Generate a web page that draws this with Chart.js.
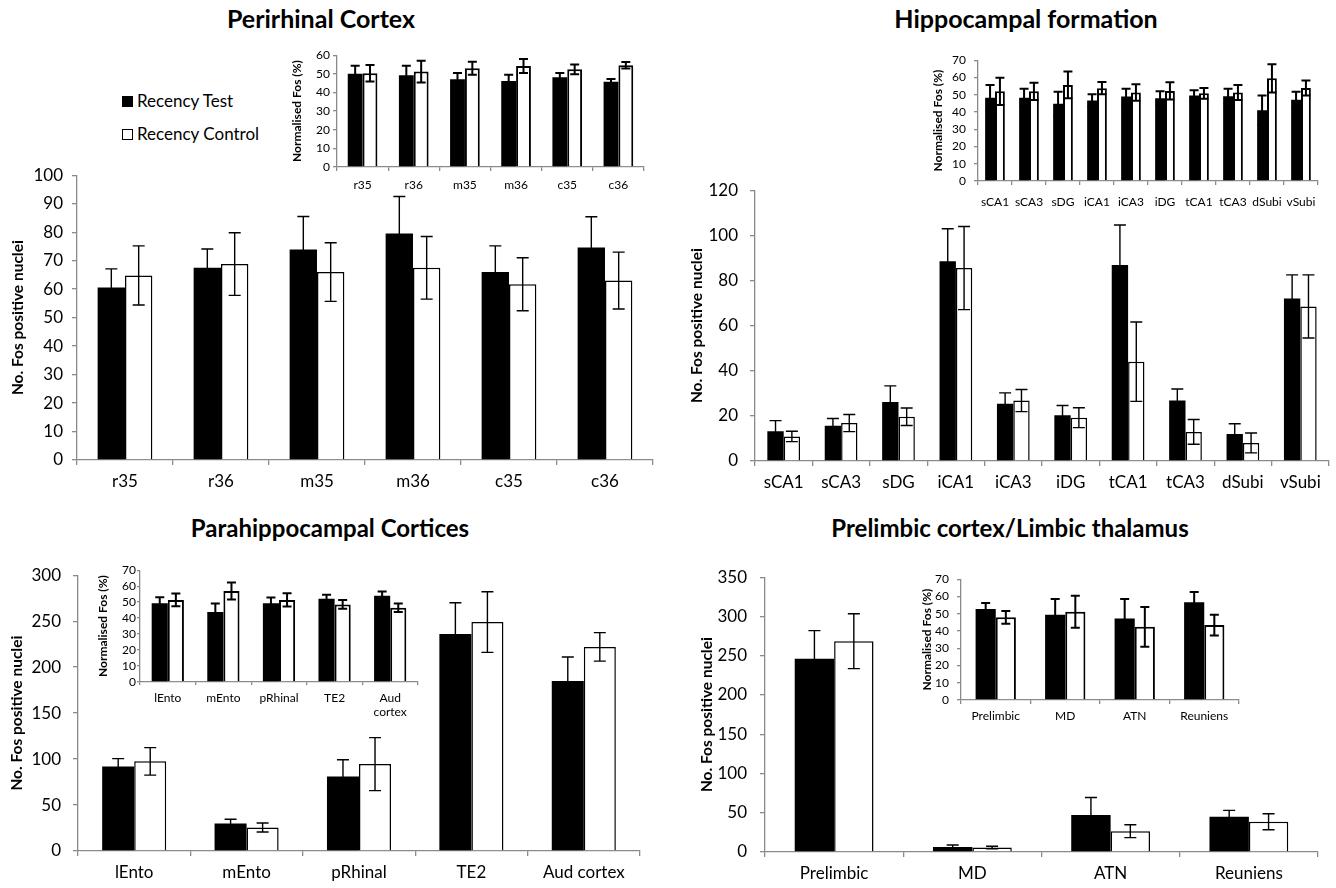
<!DOCTYPE html>
<html><head><meta charset="utf-8">
<script src="https://cdn.jsdelivr.net/npm/chart.js@4.4.1/dist/chart.umd.min.js"></script>
<style>
html,body{margin:0;padding:0;background:#fff;}
body{width:1336px;height:888px;position:relative;overflow:hidden;font-family:Lato,sans-serif;color:#000;}
canvas{position:absolute;}
.title{position:absolute;font-weight:700;white-space:nowrap;transform:translate(-50%,-50%);}
.leg{position:absolute;font-size:17px;white-space:nowrap;line-height:20px;}
.sw{position:absolute;width:11px;height:11px;box-sizing:border-box;}
</style></head><body>
<div class="title" style="left:321px;top:18px;font-size:25px;">Perirhinal Cortex</div>
<div class="title" style="left:1026px;top:18px;font-size:25px;">Hippocampal formation</div>
<div class="title" style="left:330px;top:527px;font-size:24px;">Parahippocampal Cortices</div>
<div class="title" style="left:1010px;top:527px;font-size:24px;">Prelimbic cortex/Limbic thalamus</div>
<div class="sw" style="left:122px;top:96px;background:#000;"></div>
<div class="leg" style="left:137px;top:91px;">Recency Test</div>
<div class="sw" style="left:122px;top:129px;background:#fff;border:1.5px solid #000;"></div>
<div class="leg" style="left:137px;top:124px;">Recency Control</div>
<script>
// ---------- DATA ----------
const seriesNames = ['Recency Test', 'Recency Control'];

// Perirhinal cortex
const periCats = ['r35','r36','m35','m36','c35','c36'];
const periTest = [60.6, 67.5, 73.9, 79.5, 66.0, 74.6];
const periTestSem = [6.5, 6.6, 11.6, 13.0, 9.2, 10.8];
const periCtrl = [64.8, 68.8, 66.0, 67.5, 61.7, 63.0];
const periCtrlSem = [10.4, 11.0, 10.3, 11.0, 9.3, 10.0];
const periNormTest = [50.0, 49.3, 47.1, 46.2, 48.1, 45.8];
const periNormTestSem = [4.4, 5.0, 3.3, 3.3, 2.4, 1.4];
const periNormCtrl = [50.3, 51.2, 53.0, 54.2, 52.4, 54.6];
const periNormCtrlSem = [4.4, 5.8, 3.5, 3.8, 2.6, 1.7];

// Hippocampal formation
const hipCats = ['sCA1','sCA3','sDG','iCA1','iCA3','iDG','tCA1','tCA3','dSubi','vSubi'];
const hipTest = [13.2, 15.6, 26.1, 88.5, 25.4, 20.3, 86.8, 26.8, 12.0, 72.0];
const hipTestSem = [4.7, 3.2, 7.2, 14.4, 4.8, 4.3, 17.8, 5.1, 4.5, 10.5];
const hipCtrl = [10.9, 16.8, 19.6, 85.5, 26.8, 19.2, 44.0, 12.9, 8.0, 68.5];
const hipCtrlSem = [2.3, 3.8, 3.9, 18.4, 4.9, 4.4, 17.6, 5.5, 4.4, 14.0];
const hipNormTest = [48.3, 48.3, 44.7, 46.6, 48.9, 48.0, 49.5, 49.1, 41.0, 47.1];
const hipNormTestSem = [7.4, 5.2, 7.0, 3.6, 4.6, 4.0, 3.1, 4.4, 8.5, 4.6];
const hipNormCtrl = [52.0, 52.0, 55.7, 53.8, 51.3, 52.2, 50.8, 51.3, 59.5, 53.9];
const hipNormCtrlSem = [7.9, 5.0, 7.8, 3.6, 4.8, 5.0, 3.1, 4.3, 8.2, 4.4];

// Parahippocampal cortices
const paraCats = ['lEnto','mEnto','pRhinal','TE2','Aud cortex'];
const paraTest = [92, 30, 81, 236, 185];
const paraTestSem = [8.5, 4.5, 18.3, 34, 26];
const paraCtrl = [97.5, 25.5, 94.5, 249, 222];
const paraCtrlSem = [15, 4.9, 28.8, 33, 15.5];
const paraNormTest = [49.3, 43.9, 49.3, 52.1, 54.0];
const paraNormTestSem = [3.7, 5.2, 3.6, 2.5, 2.7];
const paraNormCtrl = [51.4, 57.0, 51.4, 48.6, 46.5];
const paraNormCtrlSem = [4.0, 5.3, 4.2, 2.7, 2.6];

// Prelimbic cortex / limbic thalamus
const preCats = ['Prelimbic','MD','ATN','Reuniens'];
const preTest = [246, 6.5, 47, 45];
const preTestSem = [36, 2.5, 22.4, 8];
const preCtrl = [268.5, 5.7, 26.5, 38.5];
const preCtrlSem = [35, 1.7, 8.2, 10.2];
const preNormTest = [52.7, 49.4, 47.2, 56.7];
const preNormTestSem = [3.5, 9.1, 11.3, 5.9];
const preNormCtrl = [47.9, 51.1, 42.4, 43.4];
const preNormCtrlSem = [3.7, 9.3, 11.5, 6.0];

const mainYTitle = 'No. Fos positive nuclei';
const insetYTitle = 'Normalised Fos (%)';

// ---------- RENDERING ----------
Chart.defaults.font.family = 'Lato, sans-serif';
Chart.defaults.color = '#000';
const AX = '#8a8a8a';

const errorBarsPlugin = {
  id: 'errorBars',
  afterDatasetsDraw(chart, args, opts) {
    const ctx = chart.ctx, y = chart.scales.y;
    ctx.save();
    ctx.strokeStyle = '#000';
    ctx.lineWidth = opts.lineWidth;
    chart.data.datasets.forEach((ds, di) => {
      const meta = chart.getDatasetMeta(di);
      meta.data.forEach((bar, i) => {
        const v = ds.data[i], e = ds.errors[i];
        const x = bar.x;
        const yt = y.getPixelForValue(v + e), yb = y.getPixelForValue(v - e);
        const h = opts.cap / 2;
        ctx.beginPath();
        ctx.moveTo(x, yt); ctx.lineTo(x, yb);
        ctx.moveTo(x - h, yt); ctx.lineTo(x + h, yt);
        ctx.moveTo(x - h, yb); ctx.lineTo(x + h, yb);
        ctx.stroke();
      });
    });
    ctx.restore();
  }
};

function makeChart(o) {
  const c = document.createElement('canvas');
  const W = o.plotRight + o.padRight - o.left;
  const H = o.padTop + (o.plotBottom - o.plotTop) + o.xh;
  c.width = W; c.height = H;
  c.style.left = o.left + 'px';
  c.style.top = (o.plotTop - o.padTop) + 'px';
  c.style.width = W + 'px'; c.style.height = H + 'px';
  document.body.appendChild(c);
  const yw = o.plotLeft - o.left;
  const tLH = o.titleSize * 1.2;
  new Chart(c, {
    type: 'bar',
    data: {
      labels: o.labels,
      datasets: [
        { label: seriesNames[0], data: o.test, errors: o.testSem, backgroundColor: '#000', borderWidth: 0 },
        { label: seriesNames[1], data: o.ctrl, errors: o.ctrlSem, backgroundColor: '#fff', borderColor: '#000', borderWidth: o.bw }
      ]
    },
    options: {
      responsive: false, animation: false, devicePixelRatio: 1,
      layout: { padding: { top: o.padTop, right: o.padRight, left: 0, bottom: 0 } },
      plugins: { legend: { display: false }, tooltip: { enabled: false }, errorBars: { lineWidth: o.ew, cap: o.cap } },
      datasets: { bar: { categoryPercentage: o.catPct, barPercentage: 1 } },
      scales: {
        x: {
          grid: { display: true, offset: true, drawOnChartArea: false, drawTicks: true, tickLength: o.tl, color: AX, lineWidth: 1.3 },
          border: { display: true, color: AX, width: 1.3 },
          ticks: { font: { size: o.tickSize }, color: '#000', padding: o.xpad, maxRotation: 0, autoSkip: false },
          afterFit: s => { s.height = o.xh; }
        },
        y: {
          min: 0, max: o.max,
          ticks: { stepSize: o.step, autoSkip: false, font: { size: o.tickSize }, color: '#000', padding: o.ypad },
          grid: { drawOnChartArea: false, drawTicks: true, tickLength: o.tl, color: AX, lineWidth: 1.3 },
          border: { display: true, color: AX, width: 1.3 },
          title: { display: true, text: o.ytitle, font: { size: o.titleSize, weight: 'bold' }, color: '#000',
                   padding: { top: o.titleX - o.left - tLH / 2, bottom: 0 } },
          afterFit: s => { s.width = yw; }
        }
      }
    },
    plugins: [errorBarsPlugin]
  });
}

const mainStyle = { tickSize: 17, titleSize: 15.5, tl: 5, ypad: 9, xpad: 6, xh: 40, padTop: 12, padRight: 8, bw: 1.5, ew: 1.4, cap: 12, catPct: 0.57, ytitle: mainYTitle };
const insetStyle = { tickSize: 12, titleSize: 12, tl: 4, ypad: 4, xpad: 6, xh: 32, padTop: 8, padRight: 8, bw: 2, ew: 2, cap: 9, catPct: 0.58, ytitle: insetYTitle };

// main charts
makeChart(Object.assign({}, mainStyle, { left: 0, plotLeft: 77, plotRight: 653, plotTop: 168, plotBottom: 460, titleX: 18, max: 100, step: 10,
  labels: periCats, test: periTest, testSem: periTestSem, ctrl: periCtrl, ctrlSem: periCtrlSem }));
makeChart(Object.assign({}, mainStyle, { left: 680, plotLeft: 755, plotRight: 1329, plotTop: 180, plotBottom: 461, titleX: 697, max: 120, step: 20, padRight: 6, ypad: 12,
  labels: hipCats, test: hipTest, testSem: hipTestSem, ctrl: hipCtrl, ctrlSem: hipCtrlSem }));
makeChart(Object.assign({}, mainStyle, { left: 0, plotLeft: 78, plotRight: 640, plotTop: 565, plotBottom: 851, titleX: 17, max: 300, step: 50, ypad: 12,
  labels: paraCats, test: paraTest, testSem: paraTestSem, ctrl: paraCtrl, ctrlSem: paraCtrlSem }));
makeChart(Object.assign({}, mainStyle, { left: 680, plotLeft: 765, plotRight: 1318, plotTop: 566, plotBottom: 852, titleX: 707, max: 350, step: 50, ypad: 13, xh: 36,
  labels: preCats, test: preTest, testSem: preTestSem, ctrl: preCtrl, ctrlSem: preCtrlSem }));

// insets
makeChart(Object.assign({}, insetStyle, { left: 280, plotLeft: 337, plotRight: 644, plotTop: 53, plotBottom: 167, titleX: 297, max: 60, step: 10, ypad: 3, xpad: 7,
  labels: periCats, test: periNormTest, testSem: periNormTestSem, ctrl: periNormCtrl, ctrlSem: periNormCtrlSem }));
makeChart(Object.assign({}, insetStyle, { left: 920, plotLeft: 978, plotRight: 1318, plotTop: 53, plotBottom: 181, titleX: 938, max: 70, step: 10, ypad: 8, xpad: 10,
  labels: hipCats, test: hipNormTest, testSem: hipNormTestSem, ctrl: hipNormCtrl, ctrlSem: hipNormCtrlSem }));
makeChart(Object.assign({}, insetStyle, { left: 90, plotLeft: 140, plotRight: 418, plotTop: 570, plotBottom: 682, titleX: 103, max: 70, step: 10, ypad: 1, tl: 3, xpad: 6, xh: 46,
  labels: paraCats.map(c => c.split(' ')), test: paraNormTest, testSem: paraNormTestSem, ctrl: paraNormCtrl, ctrlSem: paraNormCtrlSem }));
makeChart(Object.assign({}, insetStyle, { left: 900, plotLeft: 961, plotRight: 1239, plotTop: 572, plotBottom: 700, titleX: 927, max: 70, step: 10, ypad: 8, xpad: 5,
  labels: preCats, test: preNormTest, testSem: preNormTestSem, ctrl: preNormCtrl, ctrlSem: preNormCtrlSem }));
</script>
</body></html>
